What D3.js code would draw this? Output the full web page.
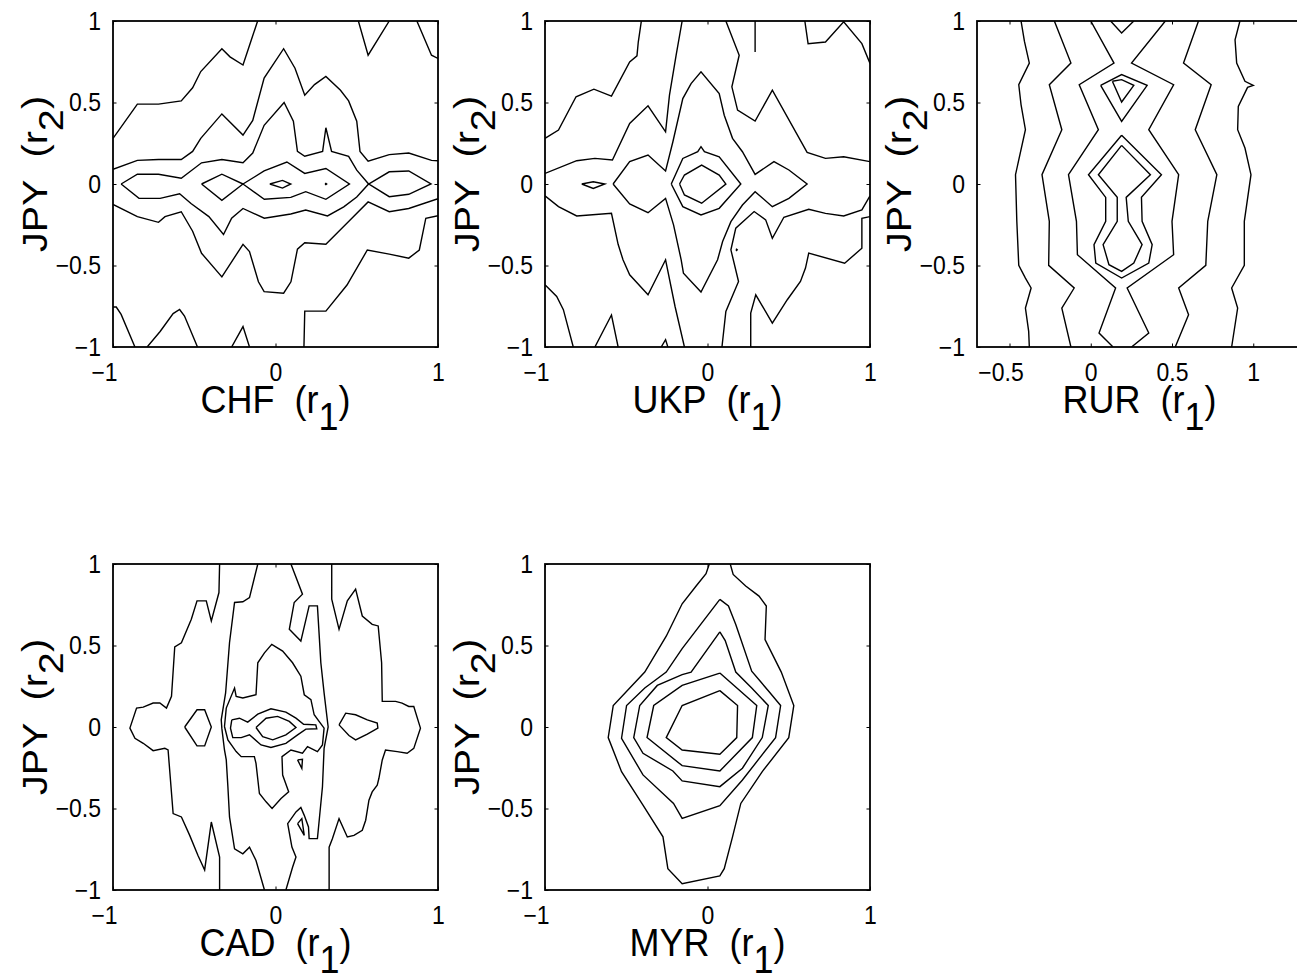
<!DOCTYPE html>
<html>
<head>
<meta charset="utf-8">
<script src="https://cdn.jsdelivr.net/npm/d3@7"></script>
<style>
  body { margin: 0; background: #fff; }
  svg { display: block; }
</style>
</head>
<body>
<svg id="chart" width="1297" height="973"></svg>
<script>
// ---- data ----------------------------------------------------------------
const currencies = ["CHF", "UKP", "RUR", "CAD", "MYR"];
const yCurrency = "JPY";
const yTicks = [-1, -0.5, 0, 0.5, 1];
const xTicksStd = [-1, 0, 1];
const xTicksRur = [-0.5, 0, 0.5, 1];
const xDomainStd = [-1, 1];
const xDomainRur = [-0.7, 1.3];

// contour polylines of the joint return density, [r1, r2] vertices
const chfContours = [
  [[-1,0.28],[-0.85,0.49],[-0.72,0.49],[-0.58,0.51],[-0.51,0.59],[-0.46,0.69],[-0.33,0.83],[-0.28,0.78],[-0.2,0.73],[-0.15,0.88],[-0.11,1]],
  [[0.51,1],[0.57,0.79],[0.7,1]],
  [[0.87,1],[0.96,0.79],[1,0.77]],
  [[-1,0.09],[-0.85,0.145],[-0.72,0.15],[-0.58,0.15],[-0.51,0.2],[-0.46,0.28],[-0.33,0.43],[-0.2,0.3],[-0.14,0.39],[-0.07,0.65],[0.05,0.83],[0.12,0.71],[0.18,0.545],[0.24,0.61],[0.31,0.66],[0.4,0.575],[0.45,0.51],[0.5,0.385],[0.52,0.2],[0.57,0.14],[0.7,0.18],[0.82,0.19],[0.96,0.145],[1,0.143]],
  [[-1,-0.125],[-0.85,-0.2],[-0.72,-0.235],[-0.68,-0.2],[-0.58,-0.17],[-0.51,-0.29],[-0.455,-0.425],[-0.33,-0.57],[-0.2,-0.37],[-0.16,-0.415],[-0.105,-0.6],[-0.07,-0.66],[0.05,-0.67],[0.095,-0.6],[0.135,-0.4],[0.18,-0.36],[0.31,-0.37],[0.45,-0.23],[0.57,-0.11],[0.7,-0.17],[0.82,-0.15],[1,-0.09]],
  [[-0.95,0],[-0.85,0.06],[-0.72,0.06],[-0.58,0.035],[-0.455,0.13],[-0.33,0.15],[-0.2,0.13],[-0.14,0.19],[-0.07,0.36],[0.053,0.5],[0.11,0.385],[0.135,0.2],[0.18,0.17],[0.29,0.2],[0.31,0.345],[0.345,0.2],[0.45,0.17],[0.5,0.085],[0.573,0],[0.7,0.075],[0.82,0.08],[0.957,0],[0.82,-0.063],[0.7,-0.078],[0.573,0],[0.5,-0.08],[0.42,-0.14],[0.32,-0.196],[0.186,-0.16],[0.094,-0.184],[-0.069,-0.21],[-0.2,-0.15],[-0.27,-0.21],[-0.32,-0.31],[-0.41,-0.2],[-0.52,-0.12],[-0.59,-0.06],[-0.71,-0.088],[-0.84,-0.088],[-0.95,0]],
  [[-0.455,0],[-0.33,0.06],[-0.2,0],[-0.33,-0.1],[-0.455,0]],
  [[-0.2,0],[-0.07,0.08],[0.07,0.135],[0.18,0.065],[0.31,0.095],[0.455,0],[0.31,-0.094],[0.186,-0.047],[0.094,-0.082],[-0.069,-0.094],[-0.2,0]],
  [[-0.035,0],[0.043,0.022],[0.094,0],[0.043,-0.025],[-0.035,0]],
  [[0.305,0],[0.31,0.004],[0.315,0],[0.31,-0.004],[0.305,0]],
  [[-1,-0.755],[-0.98,-0.755],[-0.95,-0.8],[-0.865,-1]],
  [[-0.79,-1],[-0.71,-0.905],[-0.63,-0.795],[-0.59,-0.77],[-0.56,-0.81],[-0.48,-1]],
  [[-0.27,-1],[-0.2,-0.875],[-0.16,-1]],
  [[0.175,-1],[0.18,-0.78],[0.31,-0.78],[0.44,-0.62],[0.565,-0.405],[0.7,-0.43],[0.82,-0.455],[0.885,-0.405],[0.925,-0.21],[1,-0.195]]
];

const ukpContours = [
  [[-1,0.28],[-0.917,0.331],[-0.809,0.535],[-0.699,0.582],[-0.591,0.539],[-0.479,0.749],[-0.434,0.786],[-0.426,0.871],[-0.407,1]],
  [[-1,0.065],[-0.805,0.143],[-0.693,0.157],[-0.585,0.147],[-0.479,0.371],[-0.366,0.48],[-0.258,0.32],[-0.234,0.545],[-0.193,0.79],[-0.156,1]],
  [[0.113,1],[0.195,0.79],[0.15,0.596],[0.185,0.453],[0.293,0.386],[0.399,0.575],[0.613,0.194],[0.726,0.157],[0.838,0.167],[1,0.137]],
  [[0.293,1],[0.293,0.81]],
  [[0.599,1],[0.619,0.861],[0.726,0.871],[0.838,0.995],[0.95,0.861],[1,0.74]],
  [[-0.581,0],[-0.479,0.137],[-0.366,0.178],[-0.258,0.08],[-0.213,0.259],[-0.152,0.524],[-0.101,0.616],[-0.04,0.688],[0.072,0.555],[0.103,0.422],[0.154,0.28],[0.215,0.198],[0.293,0.059],[0.409,0.137],[0.501,0.086],[0.613,0],[0.501,-0.088],[0.399,-0.139],[0.293,-0.047],[0.215,-0.129],[0.144,-0.231],[0.093,-0.353],[0.062,-0.465],[-0.04,-0.663],[-0.148,-0.547],[-0.162,-0.465],[-0.209,-0.251],[-0.258,-0.088],[-0.366,-0.176],[-0.479,-0.122],[-0.581,0]],
  [[-0.223,0],[-0.152,0.157],[-0.06,0.198],[-0.04,0.229],[-0.019,0.198],[0.072,0.167],[0.205,0],[0.072,-0.149],[-0.04,-0.19],[-0.152,-0.139],[-0.223,0]],
  [[-0.172,0],[-0.142,0.055],[-0.036,0.116],[0.072,0.055],[0.113,0],[-0.036,-0.118],[-0.142,-0.067],[-0.172,0]],
  [[-0.774,0],[-0.703,0.014],[-0.632,0],[-0.703,-0.027],[-0.774,0]],
  [[-1,-0.073],[-0.917,-0.139],[-0.805,-0.196],[-0.591,-0.18],[-0.55,-0.37],[-0.52,-0.465],[-0.479,-0.557],[-0.366,-0.68],[-0.258,-0.465],[-0.2,-0.75],[-0.142,-1]],
  [[0.089,-1],[0.113,-0.782],[0.191,-0.598],[0.144,-0.404],[0.174,-0.271],[0.287,-0.169],[0.358,-0.22],[0.399,-0.333],[0.47,-0.204],[0.623,-0.155],[0.726,-0.18],[0.838,-0.196],[0.95,-0.159],[1,-0.073]],
  [[0.175,-0.404],[0.179,-0.4],[0.183,-0.404],[0.179,-0.408],[0.175,-0.404]],
  [[1,-0.2],[0.95,-0.21],[0.95,-0.394],[0.844,-0.486],[0.623,-0.424],[0.603,-0.516],[0.572,-0.598],[0.491,-0.71],[0.399,-0.853],[0.297,-0.68],[0.266,-0.792],[0.266,-1]],
  [[-1,-0.618],[-0.928,-0.69],[-0.887,-0.771],[-0.826,-1]],
  [[-0.693,-1],[-0.591,-0.804],[-0.55,-1]],
  [[-0.285,-1],[-0.258,-0.955],[-0.244,-1]]
];

const rurContours = [
  [[-0.429,1],[-0.408,0.875],[-0.378,0.742],[-0.443,0.609],[-0.429,0.487],[-0.402,0.333],[-0.463,0.057],[-0.455,-0.229],[-0.443,-0.499],[-0.402,-0.577],[-0.367,-0.638],[-0.402,-0.761],[-0.382,-0.904],[-0.378,-1]],
  [[-0.224,1],[-0.122,0.742],[-0.255,0.609],[-0.178,0.333],[-0.3,0.057],[-0.255,-0.229],[-0.259,-0.499],[-0.102,-0.638],[-0.178,-0.761],[-0.122,-1]],
  [[0,1],[0.143,0.742],[-0.071,0.609],[0.047,0.333],[-0.137,0.057],[-0.088,-0.229],[-0.082,-0.434],[0.153,-0.638],[0.051,-0.914],[0.137,-1]],
  [[0.459,1],[0.251,0.742],[0.51,0.609],[0.357,0.333],[0.541,0.057],[0.5,-0.229],[0.51,-0.434],[0.224,-0.638],[0.357,-0.914],[0.251,-1]],
  [[0.122,1],[0.19,0.926],[0.265,1]],
  [[0.061,0.605],[0.19,0.671],[0.347,0.605],[0.19,0.384],[0.061,0.605]],
  [[0.133,0.63],[0.19,0.64],[0.265,0.605],[0.19,0.503],[0.133,0.63]],
  [[0.19,0.299],[0.435,0.057],[0.312,-0.082],[0.316,-0.229],[0.378,-0.372],[0.357,-0.485],[0.19,-0.577],[0.031,-0.485],[0.02,-0.372],[0.092,-0.229],[0.092,-0.082],[-0.014,0.057],[0.19,0.299]],
  [[0.19,0.237],[0.367,0.057],[0.218,-0.082],[0.231,-0.229],[0.316,-0.372],[0.265,-0.485],[0.19,-0.536],[0.112,-0.495],[0.076,-0.372],[0.163,-0.229],[0.163,-0.082],[0.047,0.057],[0.19,0.237]],
  [[0.663,1],[0.571,0.742],[0.741,0.609],[0.643,0.333],[0.776,0.057],[0.72,-0.229],[0.708,-0.499],[0.541,-0.638],[0.602,-0.802],[0.52,-1]],
  [[0.918,1],[0.888,0.885],[0.898,0.742],[0.949,0.63],[1,0.605],[0.965,0.593],[0.908,0.476],[0.904,0.333],[0.949,0.221],[0.986,0.057],[0.945,-0.229],[0.945,-0.499],[0.867,-0.638],[0.904,-0.761],[0.867,-1]]
];

const cadContours = [
  [[-0.344,1],[-0.348,0.825],[-0.395,0.651],[-0.426,0.774],[-0.483,0.774],[-0.518,0.661],[-0.579,0.517],[-0.62,0.492],[-0.64,0.188],[-0.671,0.116],[-0.712,0.147],[-0.753,0.147],[-0.814,0.122],[-0.855,0.116],[-0.896,-0.007],[-0.865,-0.069],[-0.814,-0.1],[-0.753,-0.145],[-0.681,-0.131],[-0.661,-0.141],[-0.63,-0.531],[-0.579,-0.552],[-0.528,-0.665],[-0.477,-0.788],[-0.436,-0.877],[-0.395,-0.583],[-0.344,-0.798],[-0.344,-1]],
  [[-0.559,0],[-0.483,0.106],[-0.436,0.106],[-0.395,0],[-0.436,-0.116],[-0.483,-0.116],[-0.559,0]],
  [[-0.109,1],[-0.16,0.794],[-0.201,0.768],[-0.252,0.764],[-0.283,0.517],[-0.307,0.209],[-0.334,0.044],[-0.33,-0.01],[-0.314,-0.141],[-0.303,-0.202],[-0.293,-0.367],[-0.283,-0.552],[-0.252,-0.747],[-0.201,-0.778],[-0.16,-0.737],[-0.12,-0.819],[-0.068,-1]],
  [[0.095,1],[0.166,0.815],[0.115,0.764],[0.085,0.599],[0.156,0.527],[0.207,0.743],[0.258,0.743],[0.279,0.394],[0.299,0.209],[0.324,0],[0.299,-0.131],[0.289,-0.367],[0.269,-0.572],[0.258,-0.685],[0.207,-0.685],[0.203,-0.613],[0.177,-0.542],[0.156,-0.494],[0.126,-0.521],[0.075,-0.593],[0.101,-0.737],[0.126,-0.798],[0.105,-0.86],[0.064,-1]],
  [[-0.314,0.003],[-0.303,0.116],[-0.252,0.239],[-0.242,0.188],[-0.201,0.178],[-0.12,0.198],[-0.109,0.394],[-0.068,0.455],[-0.023,0.507],[0.044,0.466],[0.105,0.394],[0.156,0.312],[0.177,0.198],[0.218,0.168],[0.238,0.075],[0.299,-0.007],[0.289,-0.11],[0.258,-0.151],[0.197,-0.12],[0.166,-0.161],[0.095,-0.141],[0.04,-0.182],[0.044,-0.295],[0.081,-0.398],[0.034,-0.439],[-0.021,-0.5],[-0.058,-0.459],[-0.099,-0.408],[-0.12,-0.223],[-0.13,-0.182],[-0.211,-0.182],[-0.242,-0.151],[-0.293,-0.079],[-0.314,0.003]],
  [[-0.269,0.044],[-0.222,0.054],[-0.171,0.03],[-0.109,0.079],[-0.028,0.112],[0.064,0.091],[0.126,0.054],[0.173,0.017],[0.248,0.013],[0.254,-0.011],[0.187,-0.013],[0.136,-0.048],[0.064,-0.1],[-0.028,-0.126],[-0.089,-0.11],[-0.16,-0.048],[-0.211,-0.065],[-0.263,-0.065],[-0.277,-0.007],[-0.269,0.044]],
  [[-0.12,-0.003],[-0.058,0.054],[0.013,0.065],[0.085,0.034],[0.126,-0.003],[0.064,-0.048],[-0.017,-0.079],[-0.079,-0.059],[-0.12,-0.003]],
  [[0.136,-0.202],[0.166,-0.198],[0.162,-0.254],[0.136,-0.202]],
  [[0.136,-0.593],[0.162,-0.562],[0.177,-0.665],[0.136,-0.593]],
  [[0.391,0.013],[0.432,0.085],[0.493,0.075],[0.565,0.044],[0.626,0.024],[0.63,-0.007],[0.565,-0.044],[0.493,-0.079],[0.452,-0.052],[0.391,0.013]],
  [[0.346,1],[0.346,0.784],[0.391,0.599],[0.442,0.774],[0.493,0.846],[0.534,0.681],[0.595,0.63],[0.632,0.62],[0.653,0.394],[0.657,0.157],[0.739,0.157],[0.779,0.147],[0.82,0.126],[0.851,0.126],[0.892,-0.007],[0.851,-0.131],[0.81,-0.161],[0.749,-0.151],[0.677,-0.141],[0.657,-0.202],[0.636,-0.316],[0.626,-0.357],[0.595,-0.398],[0.575,-0.449],[0.555,-0.572],[0.534,-0.634],[0.483,-0.665],[0.442,-0.675],[0.391,-0.562],[0.35,-0.685],[0.33,-0.737],[0.33,-1]]
];

const myrContours = [
  [[0.011,1],[-0.009,0.941],[-0.07,0.865],[-0.156,0.756],[-0.254,0.557],[-0.386,0.337],[-0.58,0.132],[-0.611,-0.065],[-0.529,-0.274],[-0.397,-0.479],[-0.274,-0.674],[-0.244,-0.869],[-0.156,-0.961],[0.076,-0.914],[0.103,-0.869],[0.154,-0.674],[0.205,-0.469],[0.337,-0.274],[0.5,-0.065],[0.531,0.132],[0.454,0.337],[0.354,0.536],[0.362,0.742],[0.317,0.803],[0.235,0.865],[0.158,0.936],[0.14,1]],
  [[0.076,0.783],[0.129,0.742],[0.174,0.629],[0.272,0.342],[0.378,0.218],[0.45,0.132],[0.419,-0.065],[0.215,-0.325],[0.076,-0.483],[-0.156,-0.561],[-0.209,-0.469],[-0.397,-0.294],[-0.529,-0.069],[-0.498,0.132],[-0.386,0.239],[-0.254,0.337],[-0.156,0.481],[0.076,0.783]],
  [[0.076,0.584],[0.109,0.53],[0.174,0.337],[0.272,0.239],[0.374,0.132],[0.337,-0.065],[0.215,-0.253],[0.076,-0.366],[-0.156,-0.331],[-0.213,-0.27],[-0.397,-0.161],[-0.454,-0.065],[-0.417,0.132],[-0.309,0.255],[-0.156,0.321],[-0.101,0.337],[0.076,0.584]],
  [[0.076,0.331],[0.303,0.132],[0.276,-0.065],[0.076,-0.27],[-0.156,-0.237],[-0.372,-0.065],[-0.331,0.132],[-0.156,0.255],[0.076,0.331]],
  [[0.076,0.223],[0.185,0.132],[0.18,-0.065],[0.103,-0.141],[0.076,-0.167],[-0.156,-0.141],[-0.254,-0.065],[-0.156,0.132],[0.076,0.223]]
];

const panelContours = [chfContours, ukpContours, rurContours, cadContours, myrContours];
const panelXDomains = [xDomainStd, xDomainStd, xDomainRur, xDomainStd, xDomainStd];
const panelXTicks = [xTicksStd, xTicksStd, xTicksRur, xTicksStd, xTicksStd];

// ---- layout ----------------------------------------------------------------
const plotW = 325, plotH = 326;
const layout = [
  { left: 113, top: 21 }, { left: 545, top: 21 }, { left: 977, top: 21 },
  { left: 113, top: 564 }, { left: 545, top: 564 }
];
const tickLen = 3.5;
const tickFont = 23;
const labelFont = 36;
const textStretch = 1.1;   // glyphs are drawn slightly taller than wide
const fontFamily = "Arial, 'Liberation Sans', Helvetica, sans-serif";

const svg = d3.select("#chart");
const fmt = v => (v < 0 ? "\u2212" : "") + Math.abs(v);

function styleAxis(sel, withLabels) {
  sel.select(".domain").remove();
  sel.attr("font-family", fontFamily).attr("font-size", tickFont);
  sel.selectAll(".tick line").attr("stroke", "#000").attr("stroke-width", 1);
  sel.selectAll(".tick text")
    .attr("fill", "#000")
    .attr("font-size", withLabels ? tickFont : 0)
    .attr("font-family", fontFamily)
    .attr("transform", `scale(1,${textStretch})`);
}

function subscriptLabel(textSel, main, sub) {
  textSel.append("tspan").text(main + "\u00a0\u00a0(r");
  textSel.append("tspan").attr("dy", 15.5).text(sub);
  textSel.append("tspan").attr("dy", -15.5).text(")");
}

currencies.forEach((cur, i) => {
  const pos = layout[i];
  const g = svg.append("g").attr("transform", `translate(${pos.left},${pos.top})`);
  const x = d3.scaleLinear().domain(panelXDomains[i]).range([0, plotW]);
  const y = d3.scaleLinear().domain([-1, 1]).range([plotH, 0]);

  const clipId = "clip-" + cur;
  g.append("clipPath").attr("id", clipId)
    .append("rect").attr("width", plotW).attr("height", plotH);

  const line = d3.line().x(d => x(d[0])).y(d => y(d[1]));

  g.append("g").attr("clip-path", `url(#${clipId})`)
    .selectAll("path")
    .data(panelContours[i])
    .join("path")
    .attr("d", line)
    .attr("fill", "none")
    .attr("stroke", "#000")
    .attr("stroke-width", 1.4)
    .attr("stroke-linejoin", "miter");

  // axes with inward ticks on all four sides
  const xb = g.append("g").attr("transform", `translate(0,${plotH})`)
    .call(d3.axisBottom(x).tickValues(panelXTicks[i]).tickSize(-tickLen).tickPadding(14.5).tickFormat(fmt));
  styleAxis(xb, true);
  xb.selectAll(".tick text").attr("x", d => d < 0 ? -9 : 0);

  const xt = g.append("g").call(d3.axisTop(x).tickValues(panelXTicks[i]).tickSize(-tickLen).tickFormat(""));
  styleAxis(xt, false);

  const yl = g.append("g")
    .call(d3.axisLeft(y).tickValues(yTicks).tickSize(-tickLen).tickPadding(12).tickFormat(fmt));
  styleAxis(yl, true);

  const yr = g.append("g").attr("transform", `translate(${plotW},0)`)
    .call(d3.axisRight(y).tickValues(yTicks).tickSize(-tickLen).tickFormat(""));
  styleAxis(yr, false);

  // frame
  g.append("rect")
    .attr("width", plotW).attr("height", plotH)
    .attr("fill", "none").attr("stroke", "#000").attr("stroke-width", 1.8);

  // axis titles
  const xLab = g.append("text")
    .attr("transform", `translate(${plotW / 2},${plotH + 66}) scale(1,${textStretch})`)
    .attr("text-anchor", "middle")
    .attr("font-size", labelFont).attr("font-family", fontFamily).attr("fill", "#000");
  subscriptLabel(xLab, cur, "1");

  const yLab = g.append("text")
    .attr("transform", `translate(-66,${plotH / 2 - 10}) scale(1,${textStretch}) rotate(-90)`)
    .attr("text-anchor", "middle")
    .attr("font-size", labelFont).attr("font-family", fontFamily).attr("fill", "#000");
  subscriptLabel(yLab, yCurrency, "2");
});
</script>
</body>
</html>
